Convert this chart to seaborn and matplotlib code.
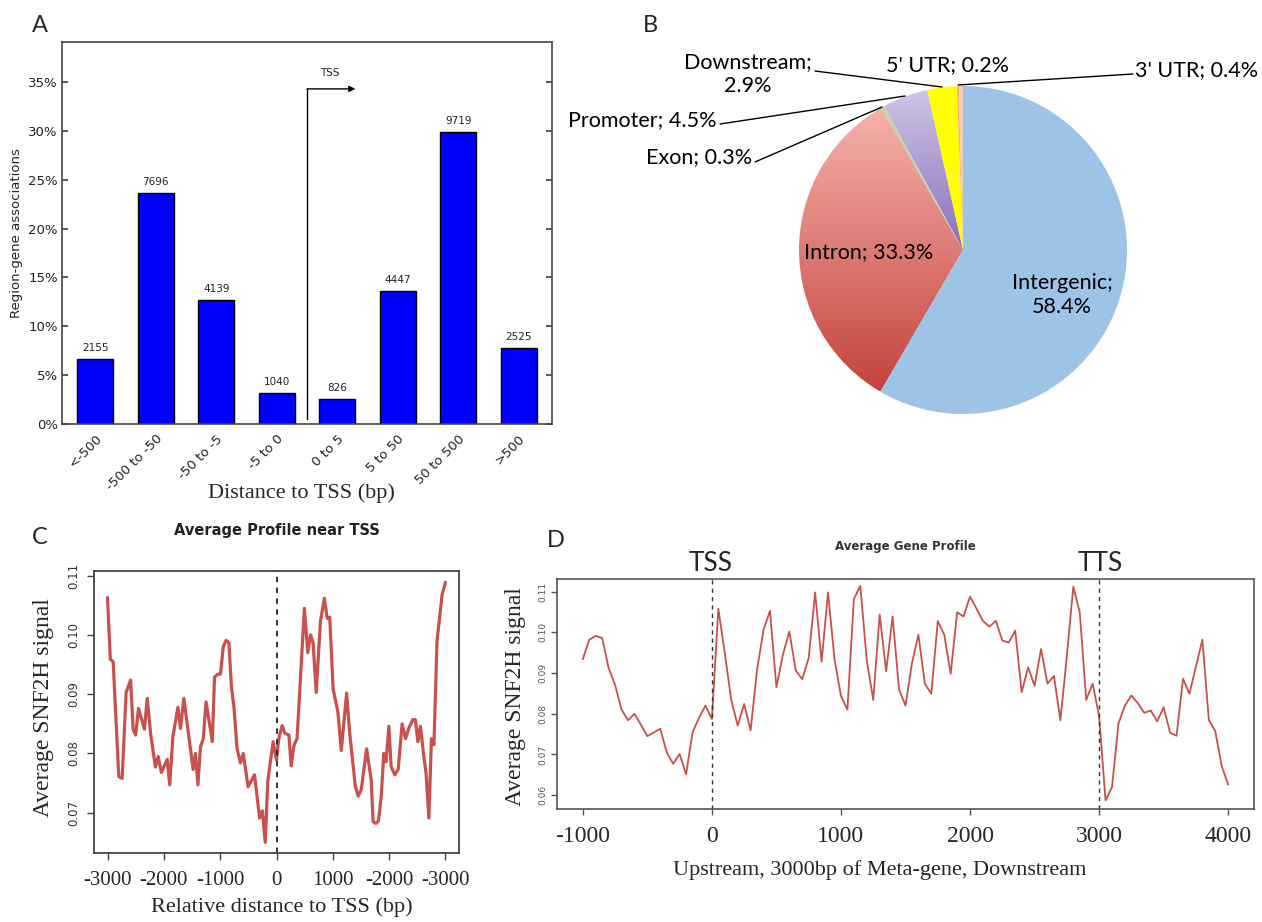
import numpy as np
import pandas as pd
import matplotlib
matplotlib.use("Agg")
import matplotlib.pyplot as plt
import seaborn as sns
from matplotlib.colors import LinearSegmentedColormap

# ---------------- data ----------------
# A: region-gene associations by distance to TSS
tss_bins = ["<-500", "-500 to -50", "-50 to -5", "-5 to 0",
            "0 to 5", "5 to 50", "50 to 500", ">500"]
bin_counts = [2155, 7696, 4139, 1040, 826, 4447, 9719, 2525]

# B: genomic annotation of peaks (percent)
region_names = ["Intergenic", "Intron", "Exon", "Promoter",
                "Downstream", "5' UTR", "3' UTR"]
region_pcts = [58.4, 33.3, 0.3, 4.5, 2.9, 0.2, 0.4]

# C: average profile near TSS
tss_pos = [-3000, -2950, -2900, -2800, -2740, -2670, -2590, -2545, -2500, -2450,
           -2345, -2295, -2235, -2150, -2100, -2045, -1940, -1895, -1840, -1750,
           -1705, -1645, -1480, -1440, -1395, -1350, -1300, -1250, -1140, -1100,
           -1040, -995, -945, -895, -845, -800, -755, -700, -640, -590,
           -505, -390, -300, -250, -200, -155, -60, 0, 40, 100,
           150, 220, 260, 310, 365, 495, 555, 605, 650, 705,
           780, 850, 900, 945, 1005, 1090, 1150, 1245, 1300, 1400,
           1450, 1505, 1600, 1680, 1715, 1765, 1810, 1860, 1905, 1945,
           1995, 2035, 2100, 2160, 2230, 2290, 2350, 2420, 2465, 2510,
           2555, 2615, 2655, 2705, 2750, 2795, 2850, 2940, 3000]
tss_signal = [0.1063, 0.0959, 0.0955, 0.0761, 0.0758, 0.0903, 0.0924, 0.0840, 0.0831, 0.0876,
              0.0841, 0.0893, 0.0834, 0.0777, 0.0795, 0.0768, 0.0790, 0.0747, 0.0828, 0.0878,
              0.0842, 0.0893, 0.0773, 0.0800, 0.0747, 0.0811, 0.0825, 0.0887, 0.0820, 0.0929,
              0.0934, 0.0934, 0.0980, 0.0991, 0.0987, 0.0912, 0.0878, 0.0808, 0.0784, 0.0800,
              0.0744, 0.0764, 0.0691, 0.0703, 0.0650, 0.0753, 0.0820, 0.0789, 0.0825, 0.0847,
              0.0834, 0.0831, 0.0779, 0.0814, 0.0825, 0.1045, 0.0970, 0.1000, 0.0987, 0.0903,
              0.1023, 0.1062, 0.1028, 0.1030, 0.0909, 0.0870, 0.0805, 0.0902, 0.0834, 0.0744,
              0.0728, 0.0739, 0.0808, 0.0756, 0.0685, 0.0682, 0.0686, 0.0728, 0.0800, 0.0786,
              0.0846, 0.0778, 0.0764, 0.0773, 0.0850, 0.0825, 0.0843, 0.0857, 0.0857, 0.0820,
              0.0846, 0.0795, 0.0767, 0.0691, 0.0825, 0.0815, 0.0990, 0.1068, 0.1089]
tss_tick_pos = [-3000, -2000, -1000, 0, 1000, 2000, 3000]
tss_tick_labels = ["-3000", "-2000", "-1000", "0", "1000", "-2000", "-3000"]

# D: average gene profile (50 bp bins, -1000 .. 4000)
gene_signal = [0.0934, 0.0982, 0.0991, 0.0986, 0.0912, 0.0871, 0.0810, 0.0784, 0.0800, 0.0773,
               0.0745, 0.0754, 0.0763, 0.0705, 0.0677, 0.0701, 0.0651, 0.0754, 0.0790, 0.0820,
               0.0787,
               0.1058, 0.0949, 0.0834, 0.0771, 0.0824, 0.0759, 0.0908, 0.1006, 0.1053, 0.0865,
               0.0945, 0.1002, 0.0906, 0.0885, 0.0937, 0.1098, 0.0928, 0.1098, 0.0934, 0.0844,
               0.0810, 0.1082, 0.1114, 0.0931, 0.0834, 0.1044, 0.0904, 0.1039, 0.0860, 0.0820,
               0.0924, 0.0994, 0.0874, 0.0849, 0.1028, 0.0994, 0.0898, 0.1049, 0.1039, 0.1088,
               0.1058, 0.1028, 0.1014, 0.1028, 0.0980, 0.0975, 0.1004, 0.0853, 0.0914, 0.0869,
               0.0959, 0.0874, 0.0893, 0.0784, 0.0941, 0.1112, 0.1049, 0.0834, 0.0874, 0.0794,
               0.0587, 0.0620, 0.0776, 0.0820, 0.0845, 0.0826, 0.0802, 0.0808, 0.0781, 0.0816,
               0.0753, 0.0746, 0.0886, 0.0849, 0.0916, 0.0982, 0.0785, 0.0757, 0.0671, 0.0626]
gene_pos = np.arange(-1000, -1000 + 50 * len(gene_signal), 50)
gene_ticks = [-1000, 0, 1000, 2000, 3000, 4000]

# ---------------- figure ----------------
sns.set_theme(style="white")
plt.rcParams["font.family"] = ["DejaVu Sans"]
W, H = 1262, 922
fig = plt.figure(figsize=(W / 100, H / 100), dpi=100)
fig.patch.set_facecolor("white")

SERIF = ["Liberation Serif", "DejaVu Serif"]
CAL = ["Lato", "DejaVu Sans"]
LINE_RED = "#C9504B"


def fx(px):
    return px / W


def fy(py):
    return 1 - py / H


def box(l, t, r, b):
    return [fx(l), fy(b), (r - l) / W, (b - t) / H]


# panel letters
for letter, (px, py) in {"A": (40, 25), "B": (650, 25), "C": (40, 538), "D": (556, 540)}.items():
    fig.text(fx(px), fy(py), letter, family=CAL, fontsize=17, ha="center", va="center")

# ---------- A: bar chart ----------
axA = fig.add_axes(box(62, 42, 552, 424))
total = sum(bin_counts)
dfA = pd.DataFrame({"bin": tss_bins, "pct": [c / total * 100 for c in bin_counts]})
sns.barplot(data=dfA, x="bin", y="pct", color="#0000FF", saturation=1, width=0.6,
            edgecolor="black", linewidth=1, ax=axA)
axA.set_xlim(-0.55, 7.55)
axA.set_ylim(0, 39.1)
axA.set_yticks(range(0, 40, 5))
axA.set_yticklabels([f"{v}%" for v in range(0, 40, 5)], fontsize=9.5, color="#222222")
axA.tick_params(axis="y", direction="in", left=True, right=True, length=4, color="#444444", pad=3)
axA.tick_params(axis="x", length=0, pad=6)
for lab in axA.get_xticklabels():
    lab.set_rotation(45)
    lab.set_ha("right")
    lab.set_rotation_mode("anchor")
    lab.set_fontsize(9.5)
    lab.set_color("#222222")
axA.set_xlabel("")
axA.set_ylabel("")
for s in axA.spines.values():
    s.set_color("#444444")
    s.set_linewidth(1.2)
for i, (p, c) in enumerate(zip(dfA["pct"], bin_counts)):
    axA.text(i, p + 0.6, str(c), ha="center", va="bottom", fontsize=7.5, color="#222222")
axA.plot([3.5, 3.5], [0.5, 34.3], color="black", lw=1)
axA.annotate("", xy=(4.3, 34.3), xytext=(3.5, 34.3),
             arrowprops=dict(arrowstyle="-|>", color="black", lw=1,
                             mutation_scale=9, shrinkA=0, shrinkB=0))
axA.text(3.88, 35.4, "TSS", ha="center", va="bottom", fontsize=7.5, color="#222222")
fig.text(fx(17), fy(233), "Region-gene associations", rotation=90, ha="center", va="center",
         fontsize=9.5, color="#222222")
fig.text(fx(301), fy(493), "Distance to TSS (bp)", family=SERIF, fontsize=16,
         ha="center", va="center")

# ---------- B: pie chart ----------
axB = fig.add_axes(box(560, 0, 1262, 460))
axB.set_axis_off()
cx, cy, rad = 963, H - 250, 164
pie_colors = ["#9DC3E6", "#E88A84", "#B9D8A0", "#B4A5D6", "#FFFF00", "#F4B183", "#F8CBAD"]
wedges, _ = axB.pie(region_pcts, colors=pie_colors, startangle=90, counterclock=False,
                    center=(cx, cy), radius=rad, frame=False,
                    wedgeprops=dict(linewidth=0))
# vertical colour ramps for the intron and promoter slices
grad_specs = {1: ("#F6B2AC", "#C4443C", (cy - rad * 0.86, cy + rad * 0.86)),
              3: ("#D2C6E8", "#8670BD", (cy, cy + rad))}
for idx, (c_top, c_bot, (y_lo, y_hi)) in grad_specs.items():
    cmap = LinearSegmentedColormap.from_list(f"g{idx}", [c_bot, c_top])
    grad = np.linspace(0, 1, 256).reshape(-1, 1)
    wedges[idx].set_facecolor("none")
    im = axB.imshow(grad, cmap=cmap, extent=(cx - rad, cx + rad, y_lo, y_hi),
                    origin="lower", aspect="auto", interpolation="bilinear",
                    zorder=wedges[idx].get_zorder() - 0.1)
    im.set_clip_path(wedges[idx])
axB.set_xlim(560, 1262)
axB.set_ylim(H - 460, H)
axB.set_aspect("equal")

pie_font = dict(family=CAL, fontsize=15.5, color="black")
axB.text(1062, H - 295, "Intergenic;\n58.4%", ha="center", va="center",
         linespacing=1.3, **pie_font)
axB.text(869, H - 252, "Intron; 33.3%", ha="center", va="center", **pie_font)
axB.text(748, H - 74, "Downstream;\n2.9%", ha="center", va="center", linespacing=1.3, **pie_font)
axB.text(948, H - 65, "5' UTR; 0.2%", ha="center", va="center", **pie_font)
axB.text(1135, H - 70, "3' UTR; 0.4%", ha="left", va="center", **pie_font)
axB.text(717, H - 120, "Promoter; 4.5%", ha="right", va="center", **pie_font)
axB.text(752, H - 157, "Exon; 0.3%", ha="right", va="center", **pie_font)
leaders = [((815, 71), (942, 87)),
           ((1133, 74), (958, 85)),
           ((720, 124), (905, 96)),
           ((755, 162), (882, 107))]
for (x0, y0), (x1, y1) in leaders:
    axB.plot([x0, x1], [H - y0, H - y1], color="black", lw=1)

# ---------- C: profile near TSS ----------
axC = fig.add_axes(box(94, 571, 459, 853))
sns.lineplot(x=tss_pos, y=tss_signal, color=LINE_RED, lw=2.3, ax=axC)
axC.axvline(0, color="#222222", ls=(0, (3, 3)), lw=1.3)
axC.set_xlim(-3240, 3240)
axC.set_ylim(0.0632, 0.1108)
axC.set_xticks(tss_tick_pos)
axC.set_xticklabels(tss_tick_labels, family=SERIF, fontsize=15)
axC.set_yticks([0.07, 0.08, 0.09, 0.10, 0.11])
axC.set_yticklabels(["0.07", "0.08", "0.09", "0.10", "0.11"], rotation=90,
                    va="center", fontsize=8.5, color="#333333")
axC.tick_params(direction="out", length=5, width=1, color="#444444", bottom=True, left=True)
axC.tick_params(axis="x", pad=8)
axC.tick_params(axis="y", pad=5)
for s in axC.spines.values():
    s.set_color("#444444")
    s.set_linewidth(1.3)
fig.text(fx(43), fy(708), "Average SNF2H signal", family=SERIF, fontsize=17,
         rotation=90, ha="center", va="center")
fig.text(fx(282), fy(907), "Relative distance to TSS (bp)", family=SERIF, fontsize=16,
         ha="center", va="center")
fig.text(fx(277), fy(531), "Average Profile near TSS", fontsize=10.5, fontweight="bold",
         ha="center", va="center", color="#222222")

# ---------- D: average gene profile ----------
axD = fig.add_axes(box(557, 579, 1254, 809))
sns.lineplot(x=gene_pos, y=gene_signal, color=LINE_RED, lw=1.3, ax=axD)
for xv in (0, 3000):
    axD.axvline(xv, color="#333333", ls=(0, (3, 3)), lw=1.0)
axD.set_xlim(-1200, 4200)
axD.set_ylim(0.0566, 0.1131)
axD.set_xticks(gene_ticks)
axD.set_xticklabels([str(t) for t in gene_ticks], family=SERIF, fontsize=17)
axD.set_yticks([0.06, 0.07, 0.08, 0.09, 0.10, 0.11])
axD.set_yticklabels(["0.06", "0.07", "0.08", "0.09", "0.10", "0.11"], rotation=90,
                    va="center", fontsize=6.5, color="#555555")
axD.tick_params(direction="out", length=4, width=1, color="#555555", bottom=True, left=True)
axD.tick_params(axis="x", pad=8)
axD.tick_params(axis="y", pad=3)
for s in axD.spines.values():
    s.set_color("#555555")
    s.set_linewidth(1.2)
fig.text(fx(516), fy(697), "Average SNF2H signal", family=SERIF, fontsize=17,
         rotation=90, ha="center", va="center")
fig.text(fx(880), fy(870), "Upstream, 3000bp of Meta-gene, Downstream", family=SERIF,
         fontsize=16, ha="center", va="center")
fig.text(fx(905), fy(546), "Average Gene Profile", fontsize=8.5, fontweight="bold",
         ha="center", va="center", color="#333333")
fig.text(fx(711), fy(563), "TSS", family=CAL, fontsize=19, ha="center", va="center")
fig.text(fx(1100), fy(563), "TTS", family=CAL, fontsize=19, ha="center", va="center")

fig.savefig("out.png", dpi=100, facecolor="white")
